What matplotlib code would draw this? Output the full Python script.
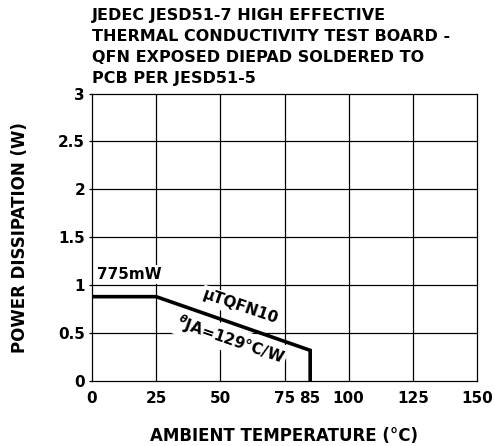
import matplotlib
matplotlib.use("Agg")
import matplotlib.pyplot as plt

# Derating curve: ambient temperature (C) vs max power dissipation (W)
temp_c = [0, 25, 85, 85]
power_w = [0.88, 0.88, 0.32, 0.0]

x_ticks = [0, 25, 50, 75, 85, 100, 125, 150]
x_grid = [25, 50, 75, 100, 125]
y_ticks = [0, 0.5, 1, 1.5, 2, 2.5, 3]

title = ("JEDEC JESD51-7 HIGH EFFECTIVE\n"
         "THERMAL CONDUCTIVITY TEST BOARD -\n"
         "QFN EXPOSED DIEPAD SOLDERED TO\n"
         "PCB PER JESD51-5")

plt.rcParams["font.family"] = ["DejaVu Sans"]
plt.rcParams["font.weight"] = "bold"

fig = plt.figure(figsize=(4.95, 4.46), dpi=100)
ax = fig.add_axes([92 / 495, 1 - 381 / 446, 385 / 495, 287.5 / 446])

ax.set_xlim(0, 150)
ax.set_ylim(0, 3)

# grid drawn by hand so the 85 tick has no line
for gx in x_grid:
    ax.axvline(gx, color="black", lw=0.9, zorder=1)
for gy in y_ticks[1:-1]:
    ax.axhline(gy, color="black", lw=0.9, zorder=1)

ax.plot(temp_c, power_w, color="black", lw=2.6, solid_joinstyle="miter",
        solid_capstyle="butt", zorder=4)

ax.set_xticks(x_ticks)
ax.set_xticklabels([str(t) for t in x_ticks])
ax.set_yticks(y_ticks)
ax.set_yticklabels(["0", "0.5", "1", "1.5", "2", "2.5", "3"])
ax.tick_params(axis="x", length=0, pad=7, labelsize=11)
ax.tick_params(axis="y", length=2, width=0.9, pad=3, labelsize=11)
for sp in ax.spines.values():
    sp.set_linewidth(0.9)

ax.set_xlabel("AMBIENT TEMPERATURE (°C)", fontsize=12, fontweight="bold",
              labelpad=15)
ax.set_ylabel("POWER DISSIPATION (W)", fontsize=12, fontweight="bold",
              labelpad=21)

fig.text(92 / 495, 1 - 8 / 446, title, ha="left", va="top", fontsize=11.5,
         fontweight="bold", linespacing=1.5)

box = dict(facecolor="white", edgecolor="none", pad=1.5)
ax.text(2, 1.11, "775mW", fontsize=11, fontweight="bold", ha="left",
        va="center", bbox=box, zorder=3)
ax.text(58, 0.77, "µTQFN10", fontsize=11, fontweight="bold", ha="center",
        va="center", rotation=-19, bbox=box, zorder=3)
ax.text(54, 0.43, r"$^{\theta}$JA=129°C/W", fontsize=11, fontweight="bold",
        ha="center", va="center", rotation=-19, bbox=box, zorder=3)

fig.savefig("out.png", dpi=100)
